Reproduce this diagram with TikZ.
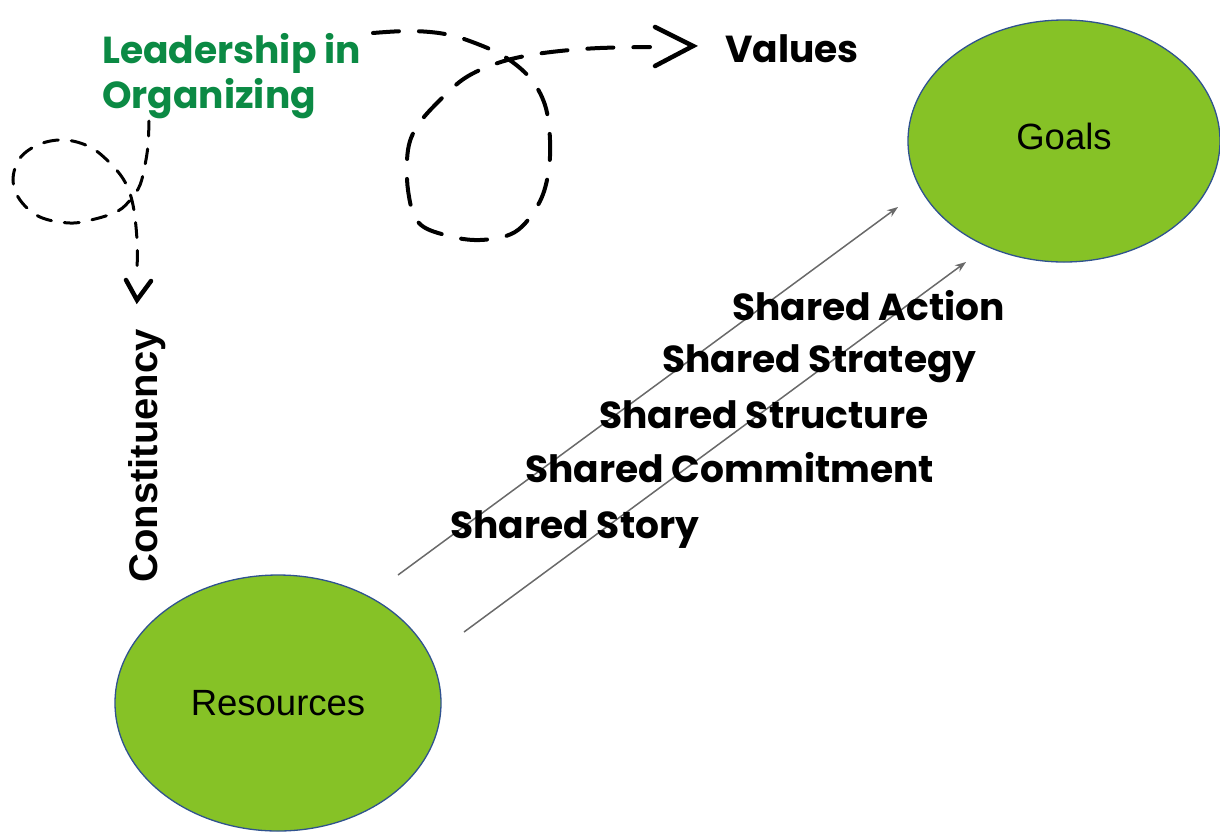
\documentclass[tikz,border=0pt]{standalone}
\usepackage{fontspec}
\setmainfont{Liberation Sans}
\newfontfamily\pop{Poppins}
\usetikzlibrary{arrows.meta,shapes.geometric}
\definecolor{leaf}{RGB}{134,194,38}
\definecolor{rim}{RGB}{47,82,143}
\definecolor{leadgreen}{RGB}{11,138,68}
\definecolor{arrowgray}{RGB}{105,105,105}
\tikzset{
  blob/.style={ellipse, draw=rim, line width=1.3pt, fill=leaf, inner sep=0pt,
               font=\fontsize{36.5}{40}\selectfont},
  poplabel/.style={inner sep=0pt, anchor=base west, font=\pop\bfseries\fontsize{37.6}{45}\selectfont},
  flow/.style={draw=arrowgray, line width=1.5pt, -{Stealth[length=11pt,width=8pt]}},
  brushA/.style={line width=3pt, line cap=round, dash pattern=on 15pt off 13pt},
  brushB/.style={line width=4pt, line cap=round, dash pattern=on 26pt off 20pt},
  chevron/.style={line width=4.5pt, line cap=round, line join=miter}
}
\begin{document}
\begin{tikzpicture}[x=1pt,y=-1pt]
\useasboundingbox (0,0) rectangle (1220,831);

% ellipses
\node[blob, minimum width=312pt, minimum height=242pt, text depth=10pt] (goals) at (1064,141) {Goals};
\node[blob, minimum width=326pt, minimum height=256pt] (resources) at (278,703) {Resources};

% flow arrows
\coordinate (a1s) at (398,575);
\coordinate (a1e) at (898,207);
\coordinate (a2s) at (464,632);
\coordinate (a2e) at (966,262);
\draw[flow] (a1s) -- (a1e);
\draw[flow] (a2s) -- (a2e);

% labels
\node[poplabel] (action) at (732,320) {Shared Action};
\node[poplabel] (strategy) at (662,372) {Shared Strategy};
\node[poplabel] (structure) at (599,428) {Shared Structure};
\node[poplabel] (commitment) at (525,482) {Shared Commitment};
\node[poplabel] (story) at (450,538) {Shared Story};
\node[poplabel] (values) at (725,62) {Values};
\node[poplabel, text=leadgreen, align=left, anchor=north west] (lead) at (102,33) {Leadership in\\Organizing};
\node[inner sep=0pt, rotate=90, anchor=base, font=\bfseries\fontsize{40}{44}\selectfont] (constituency) at (157,456) {Constituency};

% left dashed loop
\draw[brushA] plot[smooth, tension=0.6] coordinates {(149,121) (148,145) (145,165) (140,185) (131,199) (118,211) (95,219) (70,223) (40,217) (20,200) (13,180) (20,158) (40,144) (65,140) (90,147) (110,163) (125,182) (133,205) (137,240) (137,275)};
\draw[chevron] (126,280) -- (137,300) -- (151,281);

% right dashed loop to Values
\draw[brushB] plot[smooth, tension=0.6] coordinates {(373,33) (410,31) (445,34) (475,43) (505,57) (530,78) (545,105) (550,140) (548,175) (538,205) (515,232) (480,240) (445,235) (418,222) (408,190) (408,150) (418,125) (440,100) (465,78) (495,64) (525,56) (560,51) (600,48) (650,47)};
\draw[chevron] (655,27) -- (693,46) -- (655,66);
\end{tikzpicture}
\end{document}
